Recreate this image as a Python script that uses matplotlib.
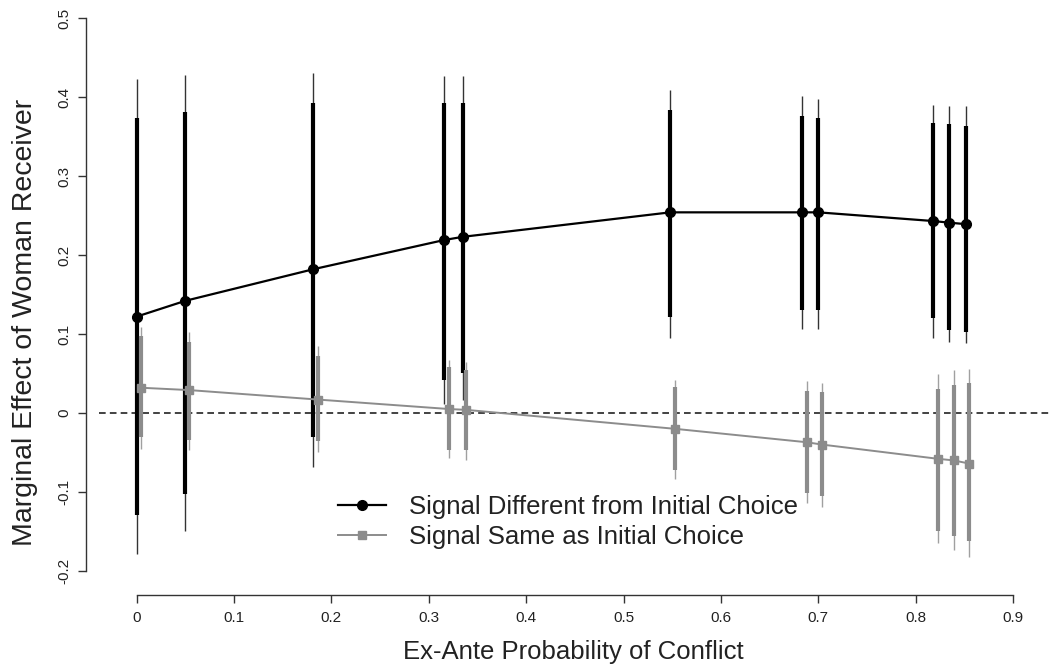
import matplotlib
matplotlib.use("Agg")
import matplotlib.pyplot as plt

# Signal different from initial choice (black)
x_diff = [0.0, 0.050, 0.1815, 0.316, 0.335, 0.548, 0.683, 0.700, 0.818, 0.834, 0.852]
y_diff = [0.122, 0.142, 0.182, 0.219, 0.223, 0.254, 0.254, 0.254, 0.243, 0.241, 0.239]
thick_lo_diff = [-0.129, -0.103, -0.030, 0.042, 0.050, 0.122, 0.130, 0.130, 0.120, 0.105, 0.103]
thick_hi_diff = [0.373, 0.381, 0.392, 0.393, 0.393, 0.384, 0.376, 0.373, 0.367, 0.366, 0.363]
thin_lo_diff = [-0.178, -0.149, -0.068, 0.012, 0.016, 0.095, 0.106, 0.106, 0.095, 0.090, 0.088]
thin_hi_diff = [0.423, 0.428, 0.431, 0.427, 0.427, 0.409, 0.401, 0.398, 0.390, 0.389, 0.388]

# Signal same as initial choice (grey)
x_same = [0.004, 0.054, 0.186, 0.321, 0.338, 0.5526, 0.688, 0.704, 0.823, 0.839, 0.855]
y_same = [0.032, 0.029, 0.017, 0.005, 0.004, -0.020, -0.037, -0.040, -0.058, -0.060, -0.064]
thick_lo_same = [-0.030, -0.034, -0.036, -0.047, -0.047, -0.072, -0.101, -0.105, -0.149, -0.156, -0.162]
thick_hi_same = [0.097, 0.090, 0.072, 0.058, 0.054, 0.033, 0.028, 0.026, 0.031, 0.036, 0.038]
thin_lo_same = [-0.045, -0.047, -0.049, -0.057, -0.059, -0.083, -0.114, -0.119, -0.165, -0.173, -0.182]
thin_hi_same = [0.109, 0.103, 0.085, 0.067, 0.065, 0.042, 0.040, 0.038, 0.049, 0.054, 0.056]

x_ticks = [0, 0.1, 0.2, 0.3, 0.4, 0.5, 0.6, 0.7, 0.8, 0.9]
x_tick_labels = ["0", "0.1", "0.2", "0.3", "0.4", "0.5", "0.6", "0.7", "0.8", "0.9"]
y_ticks = [-0.2, -0.1, 0, 0.1, 0.2, 0.3, 0.4, 0.5]
y_tick_labels = ["-0.2", "-0.1", "0", "0.1", "0.2", "0.3", "0.4", "0.5"]

plt.rcParams["font.family"] = ["Liberation Sans", "DejaVu Sans"]

fig = plt.figure(figsize=(10.5, 6.68), dpi=100)
ax = fig.add_axes([86 / 1050, 73 / 668, 964 / 1050, 595 / 668])

grey = "#8c8c8c"

ax.axhline(0, xmin=0.014, color="#222222", lw=1.2, linestyle=(0, (4, 2.5)), zorder=1)

# thin (95%) and thick (90%) intervals
ax.vlines(x_diff, thin_lo_diff, thin_hi_diff, color="#333333", lw=1.0, zorder=2)
ax.vlines(x_diff, thick_lo_diff, thick_hi_diff, color="black", lw=3.0, zorder=3)
ax.vlines(x_same, thin_lo_same, thin_hi_same, color="#a0a0a0", lw=1.0, zorder=4)
ax.vlines(x_same, thick_lo_same, thick_hi_same, color=grey, lw=3.0, zorder=5)

ax.plot(x_diff, y_diff, color="black", lw=1.6, marker="o", markersize=7,
        label="Signal Different from Initial Choice", zorder=6)
ax.plot(x_same, y_same, color=grey, lw=1.4, marker="s", markersize=6,
        label="Signal Same as Initial Choice", zorder=7)

ax.set_xlim(-0.052, 0.938)
ax.set_ylim(-0.2304, 0.5228)

for side in ["top", "right"]:
    ax.spines[side].set_visible(False)
ax.spines["left"].set_bounds(-0.2, 0.5)
ax.spines["bottom"].set_bounds(0, 0.9)
for side in ["left", "bottom"]:
    ax.spines[side].set_color("#333333")
    ax.spines[side].set_linewidth(1.0)

ax.set_xticks(x_ticks)
ax.set_xticklabels(x_tick_labels)
ax.set_yticks(y_ticks)
ax.set_yticklabels(y_tick_labels)
ax.tick_params(axis="both", length=5.5, width=1.0, color="#333333", labelsize=11, labelcolor="#222222")
ax.tick_params(axis="x", pad=6)
ax.tick_params(axis="y", pad=5)
for lab in ax.get_yticklabels():
    lab.set_rotation(90)
    lab.set_va("center")

ax.set_xlabel("Ex-Ante Probability of Conflict", fontsize=18.5, color="#222222")
ax.xaxis.set_label_coords(0.506, -0.075)
ax.set_ylabel("Marginal Effect of Woman Receiver", fontsize=20.5, color="#222222")
ax.yaxis.set_label_coords(-0.05, 0.458)

ax.legend(loc="upper left", bbox_to_anchor=(0.2614, 0.168), frameon=False,
          fontsize=18.5, handlelength=1.85, handletextpad=0.9, labelspacing=0.25,
          borderpad=0, borderaxespad=0, labelcolor="#222222")

fig.savefig("out.png", dpi=100, facecolor="white")
